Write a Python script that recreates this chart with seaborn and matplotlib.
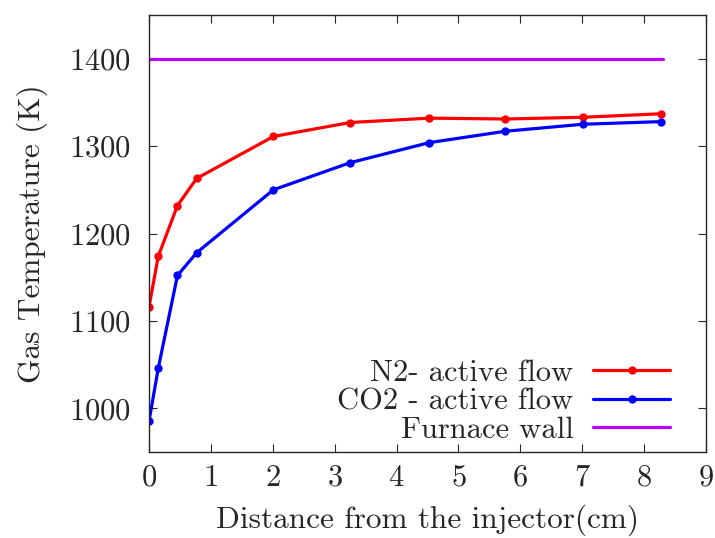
import matplotlib

matplotlib.use("Agg")
import matplotlib.pyplot as plt
import pandas as pd
import seaborn as sns

# distance from the injector (cm)
DIST = [0.0, 0.15, 0.46, 0.77, 2.01, 3.25, 4.53, 5.76, 7.01, 8.27]
N2_TEMP = [1116, 1174, 1232, 1263, 1311, 1327, 1332, 1331, 1333, 1337]
CO2_TEMP = [985, 1046, 1152, 1178, 1250, 1281, 1304, 1317, 1325, 1328]
WALL_X = [0.0, 8.3]
WALL_TEMP = [1400, 1400]

LABELS = ["N2- active flow", "CO2 - active flow", "Furnace wall"]
COLORS = ["#ff0000", "#0000ff", "#c000ff"]

sns.set_style("ticks")
plt.rcParams["font.family"] = ["cmr10", "DejaVu Serif"]
plt.rcParams["mathtext.fontset"] = "cm"
plt.rcParams["axes.formatter.use_mathtext"] = True

df = pd.concat([
    pd.DataFrame({"x": DIST, "T": N2_TEMP, "series": LABELS[0]}),
    pd.DataFrame({"x": DIST, "T": CO2_TEMP, "series": LABELS[1]}),
])

fig = plt.figure(figsize=(7.15, 5.38), dpi=100)
ax = fig.add_axes([149 / 715, 1 - 452 / 538, 557 / 715, 437 / 538])

for lab, col in zip(LABELS[:2], COLORS[:2]):
    sub = df[df["series"] == lab]
    sns.lineplot(data=sub, x="x", y="T", ax=ax, color=col, lw=2.3,
                 marker="o", markersize=6, markeredgewidth=0, label=lab)
sns.lineplot(x=WALL_X, y=WALL_TEMP, ax=ax, color=COLORS[2], lw=2.3,
             label=LABELS[2])

ax.set_xlim(0, 9)
ax.set_ylim(950, 1450)
ax.set_xticks(range(0, 10))
ax.set_yticks([1000, 1100, 1200, 1300, 1400])
ax.tick_params(direction="in", top=True, right=True, length=6, width=0.8,
               labelsize=22)
ax.tick_params(axis="x", pad=9)
ax.tick_params(axis="y", pad=13)
for s in ax.spines.values():
    s.set_linewidth(1.0)
    s.set_visible(True)
ax.set_xlabel("Distance from the injector(cm)", fontsize=22.5, labelpad=9)
ax.set_ylabel("Gas Temperature (K)", fontsize=22.5, labelpad=15)

leg = ax.legend(loc="lower right", frameon=False, markerfirst=False,
                numpoints=1, handlelength=2.5, fontsize=22,
                labelspacing=0.03, handletextpad=0.65,
                borderaxespad=0.0, bbox_to_anchor=(0.957, -0.009))
for h in leg.legend_handles:
    h.set_markersize(6)

fig.savefig("out.png", dpi=100)
